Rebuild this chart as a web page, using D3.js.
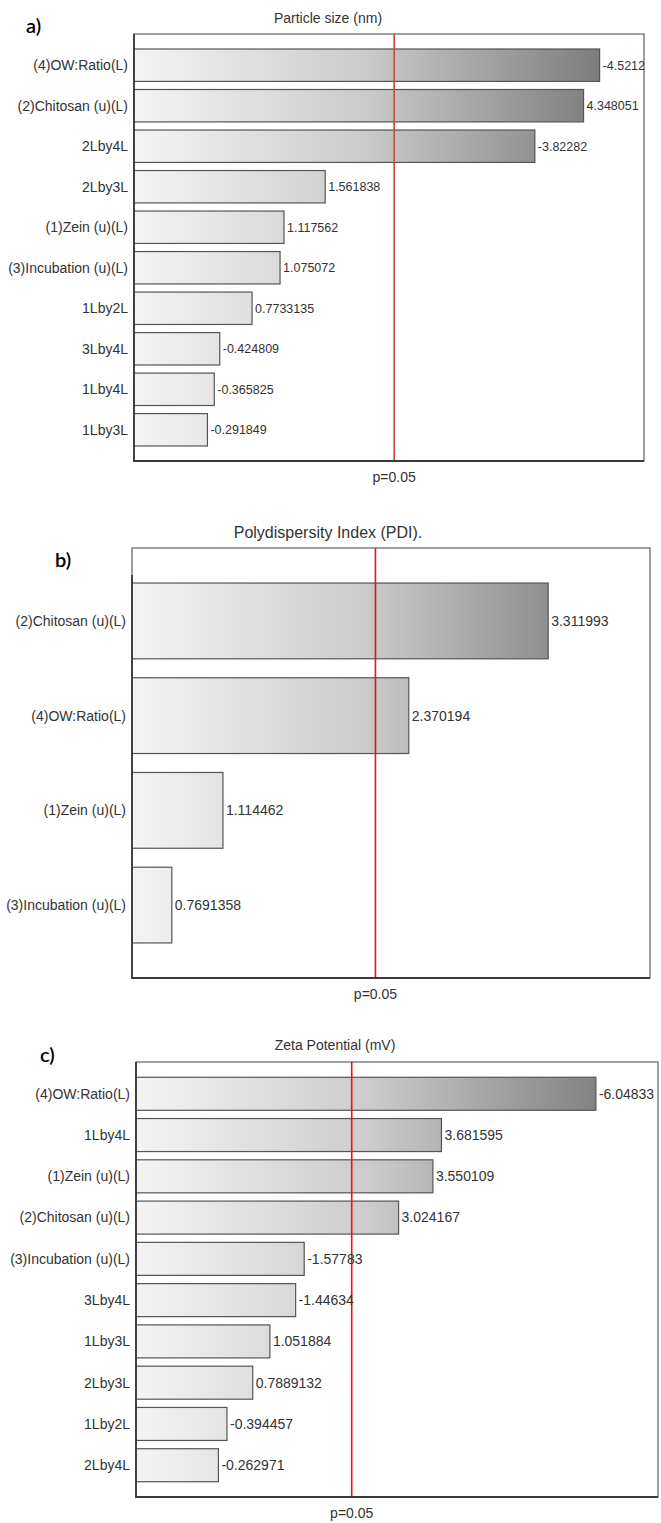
<!DOCTYPE html>
<html>
<head>
<meta charset="utf-8">
<script src="https://cdn.jsdelivr.net/npm/d3@7"></script>
<style>
  body { margin: 0; background: #fff; }
  text { font-family: "Liberation Sans", Arial, sans-serif; }
</style>
</head>
<body>
<script>
// a) particle size
const sizeLabels = ['(4)OW:Ratio(L)', '(2)Chitosan (u)(L)', '2Lby4L', '2Lby3L', '(1)Zein (u)(L)', '(3)Incubation (u)(L)', '1Lby2L', '3Lby4L', '1Lby4L', '1Lby3L']
const sizeValues = [-4.5212, 4.348051, -3.82282, 1.561838, 1.117562, 1.075072, 0.7733135, -0.424809, -0.365825, -0.291849]
const sizeCrit = 2.306

// b) PDI
const pdiLabels = ['(2)Chitosan (u)(L)', '(4)OW:Ratio(L)', '(1)Zein (u)(L)', '(3)Incubation (u)(L)']
const pdiValues = [3.311993, 2.370194, 1.114462, 0.7691358]
const pdiCrit = 2.145

// c) zeta potential
const zetaLabels = ['(4)OW:Ratio(L)', '1Lby4L', '(1)Zein (u)(L)', '(2)Chitosan (u)(L)', '(3)Incubation (u)(L)', '3Lby4L', '1Lby3L', '2Lby3L', '1Lby2L', '2Lby4L']
const zetaValues = [-6.04833, 3.681595, 3.550109, 3.024167, -1.57783, -1.44634, 1.051884, 0.7889132, -0.394457, -0.262971]
const zetaCrit = 2.306

const width = 661
const height = 1523

const svg = d3.select('body')
    .append('svg')
    .attr('width', width)
    .attr('height', height)
    .attr('viewBox', [0, 0, width, height])

svg.append('rect').attr('width', width).attr('height', height).attr('fill', '#fff')

const panels = [
    { id: 'a', tag: 'a)', tagX: 26, tagY: 26, title: 'Particle size (nm)', titleX: 328, titleY: 18, titleSize: 14,
      labels: sizeLabels, values: sizeValues, crit: sizeCrit, domain: [-0.5, 5],
      left: 134, top: 34, right: 644, bottom: 461, valueSize: 12.5, red: '#cc4444', axisFrom: 34 },
    { id: 'b', tag: 'b)', tagX: 55, tagY: 560, title: 'Polydispersity Index (PDI).', titleX: 328, titleY: 532, titleSize: 16,
      labels: pdiLabels, values: pdiValues, crit: pdiCrit, domain: [0.5, 4],
      left: 132, top: 548, right: 650, bottom: 978, valueSize: 14, red: '#f01010', axisFrom: 575 },
    { id: 'c', tag: 'c)', tagX: 40, tagY: 1055, title: 'Zeta Potential (mV)', titleX: 335, titleY: 1045, titleSize: 14,
      labels: zetaLabels, values: zetaValues, crit: zetaCrit, domain: [-1, 7],
      left: 136, top: 1062, right: 658, bottom: 1497, valueSize: 14, red: '#f01010', axisFrom: 1062 }
]

const defs = svg.append('defs')

panels.forEach(p => {
    const data = p.labels.map((l, i) => ({ label: l, value: p.values[i] }))

    const x = d3.scaleLinear()
        .domain(p.domain)
        .range([p.left, p.right])

    const y = d3.scaleBand()
        .domain(p.labels)
        .range([p.top, p.bottom])
        .paddingInner(0.2)
        .paddingOuter(0.37)

    // gradient spans the whole plot, so short bars stay light
    defs.append('linearGradient')
        .attr('id', 'grad-' + p.id)
        .attr('gradientUnits', 'userSpaceOnUse')
        .attr('x1', p.left).attr('x2', p.right)
        .attr('y1', 0).attr('y2', 0)
        .selectAll('stop')
        .data([['0%', '#f4f4f4'], ['45%', '#cbcbcb'], ['100%', '#6e6e6e']])
        .join('stop')
        .attr('offset', d => d[0])
        .attr('stop-color', d => d[1])

    const g = svg.append('g')

    g.append('text')
        .attr('x', p.tagX)
        .attr('y', p.tagY)
        .attr('dy', '0.35em')
        .style('font-family', 'Lato, "Open Sans", sans-serif')
        .attr('font-size', 20)
        .attr('font-weight', 600)
        .attr('fill', '#000')
        .text(p.tag)

    g.append('text')
        .attr('x', p.titleX)
        .attr('y', p.titleY)
        .attr('dy', '0.35em')
        .attr('text-anchor', 'middle')
        .attr('font-size', p.titleSize)
        .attr('fill', '#333')
        .text(p.title)

    // frame
    g.append('rect')
        .attr('x', p.left)
        .attr('y', p.top)
        .attr('width', p.right - p.left)
        .attr('height', p.bottom - p.top)
        .attr('fill', 'none')
        .attr('stroke', '#606060')
        .attr('stroke-width', 1.2)

    g.append('g')
        .selectAll('rect')
        .data(data)
        .join('rect')
        .attr('x', x.range()[0])
        .attr('y', d => y(d.label))
        .attr('width', d => x(Math.abs(d.value)) - x.range()[0])
        .attr('height', y.bandwidth())
        .attr('fill', 'url(#grad-' + p.id + ')')
        .attr('stroke', '#555')
        .attr('stroke-width', 1.2)

    g.append('line')
        .attr('x1', x(p.crit)).attr('x2', x(p.crit))
        .attr('y1', p.top).attr('y2', p.bottom)
        .attr('stroke', p.red)
        .attr('stroke-width', 1.6)

    // left and bottom axis lines drawn heavier
    g.append('path')
        .attr('d', `M${p.left},${p.axisFrom}V${p.bottom}H${p.right}`)
        .attr('fill', 'none')
        .attr('stroke', '#3a3a3a')
        .attr('stroke-width', 1.8)

    g.append('g')
        .selectAll('text')
        .data(data)
        .join('text')
        .attr('x', p.left - 6)
        .attr('y', d => y(d.label) + y.bandwidth() / 2)
        .attr('dy', '0.35em')
        .attr('text-anchor', 'end')
        .attr('font-size', 14)
        .attr('fill', '#333')
        .text(d => d.label)

    g.append('g')
        .selectAll('text')
        .data(data)
        .join('text')
        .attr('x', d => x(Math.abs(d.value)) + 3)
        .attr('y', d => y(d.label) + y.bandwidth() / 2)
        .attr('dy', '0.35em')
        .attr('font-size', p.valueSize)
        .attr('fill', '#333')
        .text(d => String(d.value))

    g.append('text')
        .attr('x', x(p.crit))
        .attr('y', p.bottom + 16)
        .attr('dy', '0.35em')
        .attr('text-anchor', 'middle')
        .attr('font-size', 14)
        .attr('fill', '#333')
        .text('p=0.05')
})
</script>
</body>
</html>
